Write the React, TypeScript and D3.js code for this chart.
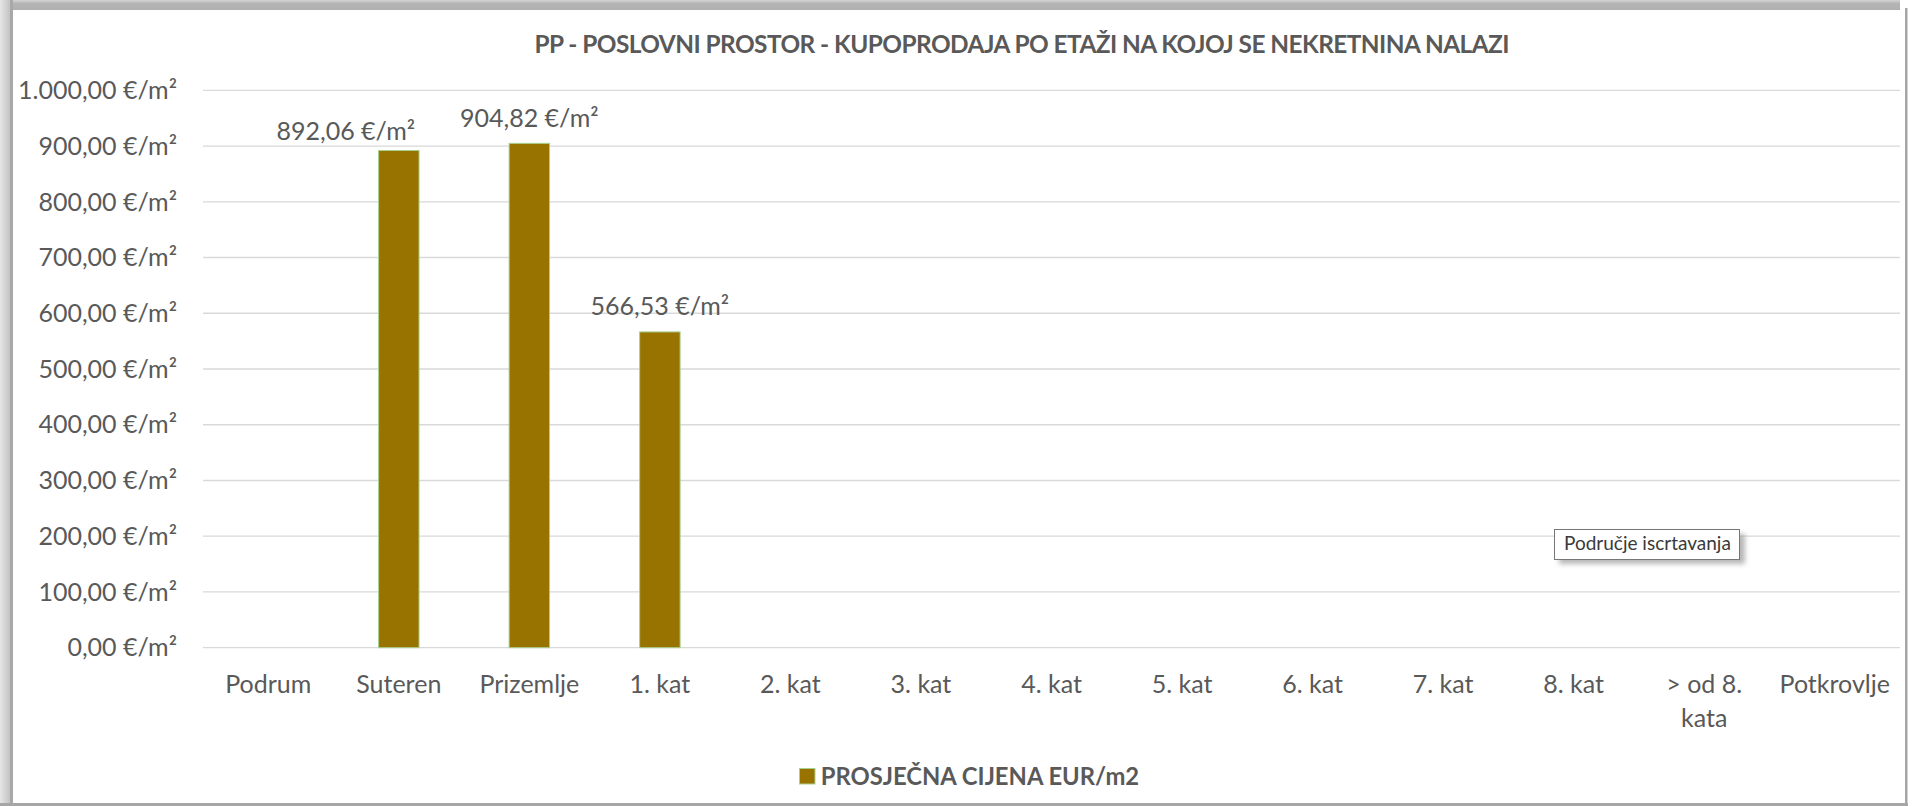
import React, { useMemo } from "react";
import * as d3 from "d3";

const categories: string[] = [
  "Podrum", "Suteren", "Prizemlje", "1. kat", "2. kat", "3. kat", "4. kat",
  "5. kat", "6. kat", "7. kat", "8. kat", "> od 8. kata", "Potkrovlje",
];
const prices: (number | null)[] = [
  null, 892.06, 904.82, 566.53, null, null, null, null, null, null, null, null, null,
];
const yMax = 1000;
const yTickCount = 10;
const title = "PP - POSLOVNI PROSTOR - KUPOPRODAJA PO ETAŽI NA KOJOJ SE NEKRETNINA NALAZI";
const seriesName = "PROSJEČNA CIJENA EUR/m2";
const tooltipText = "Područje iscrtavanja";

const W = 1916;
const H = 806;
const FONT = "Lato, 'Open Sans', sans-serif";
const TEXT = "#595959";
const BAR = "#997300";

const locale = d3.formatLocale({ decimal: ",", thousands: ".", grouping: [3], currency: ["", "€"] });
const fmt = (v: number) => locale.format(",.2f")(v) + " €/m²";

function measure(text: string, font: string): number {
  const c = document.createElement("canvas").getContext("2d");
  if (!c) return text.length * 12;
  c.font = font;
  return c.measureText(text).width;
}

function wrap(text: string, maxW: number, font: string): string[] {
  const words = text.split(" ");
  const lines: string[] = [];
  let cur = "";
  for (const w of words) {
    const t = cur ? cur + " " + w : w;
    if (cur && measure(t, font) > maxW) {
      lines.push(cur);
      cur = w;
    } else cur = t;
  }
  if (cur) lines.push(cur);
  return lines;
}

export default function App() {
  const plot = { left: 203, right: 1900, top: 90.3, bottom: 647.7 };
  const x = d3.scaleBand<string>().domain(categories).range([plot.left, plot.right]).paddingInner(0).paddingOuter(0);
  const y = d3.scaleLinear().domain([0, yMax]).range([plot.bottom, plot.top]);
  const ticks = y.ticks(yTickCount);
  const barW = x.bandwidth() * 0.31;
  const axisFont = `25px Lato`;

  const wrapped = useMemo(() => categories.map((c) => wrap(c, 118, axisFont)), []);

  return (
    <svg width={W} height={H} style={{ position: "absolute", left: 0, top: 0, background: "#fff" }} fontFamily={FONT}>
      <defs>
        <linearGradient id="lg" x1="0" x2="1" y1="0" y2="0">
          <stop offset="0" stopColor="#e6e6e6" />
          <stop offset="0.75" stopColor="#c4c4c4" />
          <stop offset="0.8" stopColor="#a8a8a8" />
          <stop offset="1" stopColor="#a8a8a8" />
        </linearGradient>
        <linearGradient id="tg" x1="0" x2="0" y1="0" y2="1">
          <stop offset="0" stopColor="#d4d4d4" />
          <stop offset="0.35" stopColor="#b4b4b4" />
          <stop offset="1" stopColor="#b0b0b0" />
        </linearGradient>
        <filter id="blur" x="-20%" y="-50%" width="140%" height="200%">
          <feGaussianBlur stdDeviation="2.5" />
        </filter>
      </defs>
      <rect x={0} y={0} width={W} height={H} fill="#fff" />
      {/* chart frame / shadow */}
      <rect x={0} y={0} width={1900} height={10} fill="url(#tg)" />
      <rect x={0} y={0} width={13} height={803} fill="url(#lg)" />
      <rect x={1905} y={8} width={2.5} height={797} fill="#a6a6a6" />
      <rect x={0} y={803} width={1908} height={3} fill="#a6a6a6" />

      {/* title */}
      <text x={1022} y={52.7} textAnchor="middle" fontSize={24.4} fontWeight={700} fill={TEXT}
        textLength={975} lengthAdjust="spacing">
        {title}
      </text>

      {/* gridlines */}
      {ticks.map((t) => (
        <line key={t} x1={plot.left} x2={plot.right} y1={y(t)} y2={y(t)} stroke="#d9d9d9" strokeWidth={1.3} />
      ))}
      {ticks.map((t) => (
        <text key={"l" + t} x={177} y={y(t)} dy="0.35em" textAnchor="end" fontSize={25} fill={TEXT}>
          {fmt(t)}
        </text>
      ))}

      {/* bars */}
      {categories.map((c, i) => {
        const v = prices[i];
        if (v == null) return null;
        const cx = (x(c) as number) + x.bandwidth() / 2;
        return (
          <rect key={c} x={cx - barW / 2} y={y(v)} width={barW} height={y(0) - y(v)} fill={BAR} stroke="#a9d18e" strokeWidth={1} />
        );
      })}
      {categories.map((c, i) => {
        const v = prices[i];
        if (v == null) return null;
        const cx = (x(c) as number) + x.bandwidth() / 2;
        const moved = i === 1;
        return (
          <text key={"v" + c} x={cx + (moved ? -53 : 0)} y={y(v) - (moved ? 10.5 : 16.8)} textAnchor="middle" fontSize={25} fill={TEXT}>
            {fmt(v)}
          </text>
        );
      })}

      {/* x labels */}
      {categories.map((c, i) => {
        const cx = (x(c) as number) + x.bandwidth() / 2;
        return (
          <text key={"x" + c} x={cx} y={plot.bottom + 45.6} textAnchor="middle" fontSize={25} fill={TEXT}>
            {wrapped[i].map((ln, j) => (
              <tspan key={j} x={cx} dy={j === 0 ? 0 : 33.5}>
                {ln}
              </tspan>
            ))}
          </text>
        );
      })}

      {/* legend */}
      <rect x={799.5} y={768.5} width={15.5} height={15.5} fill={BAR} stroke="#a9d18e" strokeWidth={1} />
      <text x={820.7} y={784.5} fontSize={23.8} fontWeight={700} fill={TEXT}>
        {seriesName}
      </text>

      {/* tooltip */}
      <rect x={1559} y={534} width={186} height={30} fill="#9a9a9a" opacity={0.7} filter="url(#blur)" />
      <rect x={1554.5} y={529.5} width={185} height={30} fill="#fff" stroke="#767676" strokeWidth={1} />
      <text x={1564} y={550} fontSize={19} fill="#3a3a3a">
        {tooltipText}
      </text>
    </svg>
  );
}
